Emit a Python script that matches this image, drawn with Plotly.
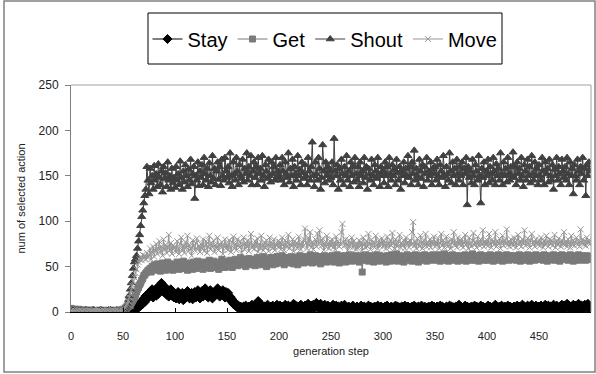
import plotly.graph_objects as go

steps = list(range(500))

stay = [
1,0,0,1,0,0,0,0,1,0,0,0,0,0,1,0,0,0,0,0,0,1,0,0,0,
0,0,0,0,1,0,0,0,0,0,0,0,0,1,0,0,0,0,0,0,0,0,1,0,0,
0,0,1,0,0,1,2,1,3,2,1,4,6,3,8,5,9,7,12,9,15,11,18,14,20,
17,22,19,25,16,21,24,18,27,20,23,29,32,26,22,28,24,19,23,17,21,25,18,22,16,
20,15,18,22,14,19,17,21,13,18,16,20,23,17,15,19,21,14,18,22,16,20,24,18,15,
19,23,17,21,26,18,22,16,20,24,19,15,21,18,23,20,26,22,17,21,19,24,20,16,22,
18,21,15,17,12,14,9,11,7,8,5,7,4,6,5,3,6,4,7,5,3,6,4,5,8,
6,4,7,5,3,12,6,4,5,7,3,6,5,4,8,5,3,6,4,7,5,3,6,8,4,
5,7,4,6,3,5,8,6,4,7,5,3,6,4,9,5,7,4,6,3,5,8,4,6,5,
7,4,6,9,5,3,7,5,8,4,6,10,5,7,4,9,6,3,5,8,4,6,7,3,5,
4,6,8,5,3,7,4,6,5,3,7,4,6,8,5,3,4,6,3,5,4,7,3,5,4,
6,3,5,4,7,3,5,6,4,3,5,7,4,6,3,5,4,6,3,5,7,4,3,6,4,
5,3,6,4,7,5,3,4,6,3,5,4,7,3,6,4,5,3,6,4,5,7,3,4,6,
3,5,4,6,3,7,4,5,3,6,4,5,7,3,4,6,3,5,4,6,3,5,7,4,6,
4,3,6,5,3,7,4,6,5,3,4,6,3,5,7,4,6,3,5,4,6,3,5,8,4,
6,4,3,5,7,4,6,3,5,4,6,5,3,7,4,6,3,5,4,7,3,6,4,5,3,
5,7,4,6,3,5,4,6,8,4,5,3,6,4,7,5,3,6,4,5,7,3,6,4,5,
3,6,4,5,7,4,6,3,5,8,4,6,5,3,7,4,6,5,8,4,6,3,7,5,4,
6,4,7,5,3,6,8,4,5,7,4,6,3,5,8,6,4,7,5,3,6,4,8,5,7,
4,6,9,5,7,4,6,3,8,5,7,4,6,9,5,3,7,6,4,8,5,6,9,4,6]

get = [
4,3,3,2,3,2,2,3,2,2,2,1,2,2,1,2,1,1,2,1,1,2,1,1,1,
1,1,2,1,1,1,1,2,1,1,1,1,1,2,1,1,1,1,2,1,1,2,1,2,2,
3,2,4,3,5,6,8,7,10,12,14,16,19,22,25,27,30,32,35,37,40,41,43,44,46,
45,48,44,50,47,52,46,49,53,47,51,45,50,54,48,52,46,50,55,49,47,53,51,46,50,
52,48,55,50,47,53,49,51,56,48,52,50,46,54,51,49,53,47,55,50,52,48,56,51,49,
53,50,47,55,52,49,54,51,57,48,53,50,56,52,49,55,51,47,54,52,58,50,53,49,56,
52,55,50,57,53,49,56,52,58,54,51,57,53,60,55,52,58,54,50,57,55,59,53,56,52,
58,55,51,57,60,54,56,52,59,55,61,53,57,50,58,56,54,60,55,52,59,57,53,61,56,
54,58,55,62,57,52,59,56,60,54,58,55,61,57,53,60,56,58,52,59,62,55,57,60,54,
58,61,55,59,56,63,57,54,60,58,62,55,59,57,61,53,58,60,56,62,59,55,61,57,60,
56,62,58,55,60,57,63,59,54,61,57,60,58,62,55,59,61,57,63,58,56,60,62,57,59,
61,57,55,62,59,44,60,57,63,58,61,56,59,62,57,60,55,61,58,63,59,56,62,58,60,
57,61,59,55,62,58,60,56,63,59,57,61,58,64,56,60,62,57,59,61,55,60,58,63,57,
60,58,62,56,61,59,63,57,60,55,62,58,61,59,57,63,60,56,62,58,61,57,59,63,60,
58,62,57,60,63,56,59,61,58,64,57,60,62,56,59,61,58,63,57,60,62,59,56,61,58,
62,57,60,59,63,56,61,58,62,57,60,64,58,61,57,59,62,56,60,63,58,61,57,60,62,
59,57,61,63,58,60,56,62,59,61,57,63,58,60,62,56,59,61,58,63,60,57,62,59,61,
58,62,60,57,61,59,63,56,60,62,58,61,57,60,63,59,56,62,60,58,61,57,63,60,59,
61,58,62,60,57,63,59,61,56,60,62,58,61,59,63,57,60,62,58,61,56,60,63,59,61,
58,62,60,57,61,63,59,60,56,62,58,61,59,63,57,60,62,58,61,59,57,62,60,58,61]

shout = [
2,2,1,2,1,1,2,1,1,1,2,1,1,1,1,2,1,1,1,1,1,1,2,1,1,
1,1,1,2,1,1,1,1,1,1,1,2,1,1,1,1,1,1,1,2,1,1,1,1,1,
2,3,4,6,9,13,18,25,32,40,48,55,58,62,70,78,85,95,105,112,120,128,135,160,145,
130,158,142,150,135,161,145,152,138,163,148,140,155,132,160,147,153,138,165,145,150,135,158,142,148,
137,160,145,152,140,166,148,135,155,143,162,150,138,157,145,168,141,152,160,125,150,145,165,139,155,
148,162,140,170,152,145,158,138,164,150,143,172,147,158,140,155,165,146,160,139,168,150,145,170,155,
148,160,142,175,150,138,165,152,145,170,155,140,162,150,147,168,143,158,152,175,145,160,150,172,140,
155,165,148,160,140,170,152,158,145,172,150,138,162,155,147,168,150,143,165,152,160,145,170,148,155,
150,162,145,170,155,140,165,152,148,175,143,158,150,168,138,160,152,145,172,150,157,140,165,153,147,
162,150,140,170,155,145,160,187,150,138,165,152,145,170,158,135,148,184,155,142,165,150,160,145,155,
148,165,140,191,155,150,162,135,158,145,168,152,140,160,150,172,145,155,138,165,150,160,143,170,152,
145,160,138,165,150,155,142,170,148,160,135,158,152,145,168,150,140,162,155,147,170,152,138,160,150,
155,142,165,150,160,138,170,152,145,162,150,157,140,168,153,145,160,135,155,150,165,142,158,150,172,
148,160,140,165,152,178,145,158,150,140,168,155,147,162,138,160,152,170,145,155,150,165,140,158,152,
160,145,168,150,140,162,155,148,172,150,138,160,152,145,175,155,142,165,150,158,140,168,152,145,160,
150,165,140,158,152,170,118,160,148,155,142,168,150,140,162,155,145,172,150,120,158,148,165,140,155,
150,168,142,160,152,145,170,155,140,163,150,158,145,175,152,140,165,150,158,143,170,152,145,160,150,
176,148,160,140,165,152,158,145,170,150,138,162,155,145,168,150,160,142,172,152,145,165,150,158,140,
162,150,145,170,155,140,165,152,158,143,168,150,145,162,135,157,150,170,145,160,152,140,168,155,148,
160,145,170,152,140,165,150,158,130,162,150,145,168,155,140,160,152,170,145,158,128,162,150,165,155]

move = [
1,2,1,2,1,1,2,1,1,2,1,1,1,2,1,1,1,2,1,1,1,1,2,1,1,
1,2,1,1,1,1,2,1,1,1,2,1,1,1,1,2,1,1,1,2,1,1,2,1,2,
2,3,5,7,9,12,16,20,24,29,34,38,43,47,52,55,58,60,57,63,59,62,58,65,60,
63,70,58,66,72,61,68,75,64,70,78,66,72,62,80,69,74,65,71,85,68,76,64,73,70,
72,66,78,70,64,75,82,68,73,65,77,71,84,67,74,70,62,79,72,68,76,81,69,73,66,
75,70,80,67,73,78,65,72,84,69,76,71,79,66,74,70,82,68,75,72,77,64,73,80,70,
74,68,79,72,66,77,83,70,75,68,80,73,71,78,65,74,82,69,76,72,79,67,75,86,71,
74,69,78,72,81,66,75,70,84,73,68,77,71,79,74,67,82,72,76,70,80,68,75,73,78,
71,77,69,82,74,68,79,72,76,85,70,75,73,80,67,78,72,76,70,83,74,69,77,72,80,
92,76,70,82,74,88,71,77,69,75,80,72,86,74,90,78,73,81,68,76,72,84,75,70,78,
73,80,71,76,69,83,74,78,72,75,88,97,77,73,80,74,68,79,72,76,82,71,78,74,69,
75,70,79,73,77,68,82,74,71,78,72,86,75,69,80,73,77,71,84,74,70,79,73,76,81,
72,78,74,70,83,75,71,79,73,87,76,70,80,74,72,78,85,71,76,73,79,70,82,75,77,
71,79,74,88,99,73,77,70,81,75,72,84,76,70,79,74,86,72,77,73,80,71,78,75,83,
72,77,74,81,70,76,86,73,79,71,75,83,72,78,74,70,80,76,88,73,77,71,82,75,79,
73,80,71,76,85,74,78,70,82,75,72,79,87,74,77,71,83,76,73,80,75,90,72,78,74,
79,73,86,75,71,80,77,74,88,72,78,75,81,70,77,84,73,79,75,91,74,78,72,80,76,
73,82,77,71,79,85,74,78,72,80,76,90,73,77,81,75,71,79,86,74,78,72,80,76,74,
79,73,82,76,71,78,74,84,77,72,80,75,79,73,77,85,71,78,74,81,76,72,79,75,88,
74,78,72,80,76,71,84,75,79,73,77,82,74,78,72,91,76,80,74,78,73,82,76,79,75]

x_ticks = [0, 50, 100, 150, 200, 250, 300, 350, 400, 450]
y_ticks = [0, 50, 100, 150, 200, 250]

FONT = "Liberation Sans, Arial, sans-serif"

series = [
    ("Stay", stay, "#000000", "diamond", 7),
    ("Get", get, "#7a7a7a", "square", 6),
    ("Shout", shout, "#404040", "triangle-up", 7),
    ("Move", move, "#969696", "x-thin", 6),
]

fig = go.Figure()
for name, vals, col, sym, sz in series:
    fig.add_trace(go.Scatter(
        x=steps, y=vals, name=name, mode="lines+markers",
        line=dict(color=col, width=1),
        marker=dict(symbol=sym, size=sz, color=col,
                    line=dict(color=col, width=1)),
    ))

L, R, T, B = 71, 5, 85, 62
W, H = 596, 374
pw, ph = W - L - R, H - T - B

def px(xp):
    return (xp - L) / pw

def py(yp):
    return (H - B - yp) / ph

fig.update_layout(
    width=W, height=H,
    margin=dict(l=L, r=R, t=T, b=B),
    paper_bgcolor="white", plot_bgcolor="white",
    font=dict(family=FONT, size=11, color="#000000"),
    showlegend=True,
    legend=dict(
        orientation="h", x=px(325), y=py(39), xanchor="center", yanchor="middle",
        borderwidth=0, bgcolor="rgba(0,0,0,0)",
        font=dict(family=FONT, size=20, color="#000000"),
        itemwidth=30, traceorder="normal",
    ),
    xaxis=dict(
        range=[0, 500], tickvals=x_ticks, ticktext=[str(v) for v in x_ticks],
        ticks="inside", ticklen=4, tickcolor="#000000",
        showgrid=False, zeroline=False,
        showline=True, linecolor="#000000", linewidth=1,
        ticklabelstandoff=14,
        tickfont=dict(size=11, color="#222222"),
        title=dict(text="generation step", font=dict(size=11, color="#222222"), standoff=6),
    ),
    yaxis=dict(
        range=[0, 250], tickvals=y_ticks, ticktext=[str(v) for v in y_ticks],
        ticks="outside", ticklen=5, tickcolor="#808080",
        showgrid=False, zeroline=False,
        showline=True, linecolor="#808080", linewidth=1,
        ticklabelstandoff=4,
        tickfont=dict(size=12, color="#222222"),
        title=dict(text="num of selected action", font=dict(size=11, color="#222222"), standoff=10),
    ),
    shapes=[
        dict(type="rect", xref="paper", yref="paper",
             x0=px(4), x1=px(595), y0=py(372), y1=py(1),
             line=dict(color="#808080", width=1.5), layer="below"),
        dict(type="rect", xref="paper", yref="paper",
             x0=px(148), x1=px(502), y0=py(64), y1=py(13),
             line=dict(color="#000000", width=1), layer="below"),
        dict(type="line", xref="paper", yref="paper",
             x0=0, x1=1, y0=1, y1=1, line=dict(color="#a0a0a0", width=1)),
        dict(type="line", xref="paper", yref="paper",
             x0=1, x1=1, y0=0, y1=1, line=dict(color="#a0a0a0", width=1)),
    ],
)

fig.write_html("out.html")
